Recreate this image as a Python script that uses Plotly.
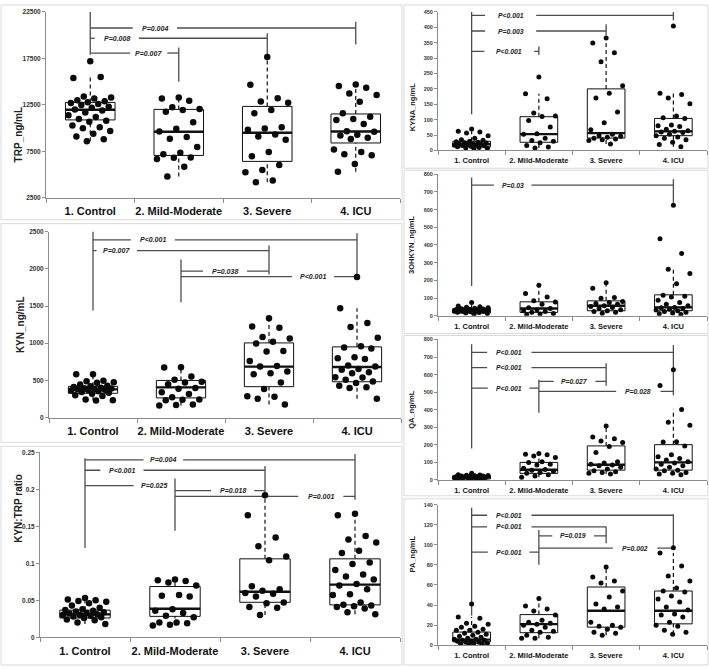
import plotly.graph_objects as go

W, H = 709, 669
FONT = "Liberation Sans, Arial, sans-serif"

categories = ["1. Control", "2. Mild-Moderate", "3. Severe", "4. ICU"]

# ---------------- TRP (ng/mL) ----------------
trp_control = [17190, 15400, 15500, 13400, 13300, 13200, 13000, 12900, 12800, 12700, 12600, 12500,
               12300, 12200, 12000, 11900, 11700, 11400, 11200, 11000, 10800, 10700, 10300, 10100,
               10000, 9700, 9400, 9100, 8800, 8600]
trp_mild = [13300, 13200, 12950, 12240, 12050, 11950, 11780, 10650, 9930, 9650, 9050, 8870, 7990,
            7350, 7200, 6850, 6820, 6680, 5860, 4800]
trp_severe = [17650, 14680, 13230, 12870, 12730, 11950, 11600, 10110, 9970, 9830, 9330, 9120, 8760,
              7450, 6990, 6040, 5500, 5260, 4380, 4200]
trp_icu = [14710, 14540, 14360, 13720, 13580, 12830, 11600, 11240, 10990, 10890, 10460, 9680, 9610,
           9290, 9220, 8970, 8830, 7700, 7450, 7200, 7100, 6140, 5330]
trp_q1 = [10890, 7070, 6430, 8410]
trp_median = [11990, 9610, 9510, 9650]
trp_q3 = [12770, 12020, 12340, 11530]
trp_low = [8600, 4800, 4200, 5330]
trp_high = [15500, 13300, 17650, 14710]
trp_brackets = [(0, 3, 20770, "P=0.004", 0.73, 0.25), (0, 2, 19670, "P=0.008", 0.30, 0.25),
                (0, 1, 18080, "P=0.007", 0.66, 0.21)]
trp_verticals = [(0, 22500, 17900), (3, 21440, 18990), (2, 20200, 17900), (1, 18680, 15000)]

# ---------------- KYN (ng/mL) ----------------
kyn_control = [584, 582, 495, 490, 475, 470, 445, 430, 420, 410, 400, 395, 390, 385, 380, 375, 370,
               365, 355, 345, 335, 320, 300, 290, 245, 235, 230]
kyn_mild = [677, 673, 553, 509, 482, 473, 447, 398, 389, 341, 319, 274, 243, 239, 235, 177, 168, 164]
kyn_severe = [1336, 1226, 1208, 1084, 1062, 1018, 996, 894, 889, 761, 695, 686, 620, 597, 584, 473,
              385, 288, 279, 252, 177]
kyn_icu = [1889, 1469, 1270, 1217, 1075, 960, 943, 929, 810, 797, 788, 699, 686, 655, 642, 611, 597,
           544, 540, 509, 487, 465, 429, 407, 398, 252]
kyn_q1 = [327, 265, 416, 482]
kyn_median = [380, 407, 686, 681]
kyn_q3 = [420, 500, 1004, 951]
kyn_low = [230, 164, 177, 252]
kyn_high = [584, 677, 1336, 1469]
kyn_brackets = [(0, 3, 2390, "P<0.001", 0.68, 0.25), (0, 2, 2243, "P=0.007", 0.27, 0.23),
                (1, 2, 1969, "P=0.038", 1.5, 0.25), (1, 3, 1894, "P<0.001", 2.5, 0.24)]
kyn_verticals = [(0, 2500, 1438), (3, 2478, 1900), (2, 2314, 1925), (1, 2124, 1549)]

# ---------------- KYN:TRP ratio ----------------
ratio_control = [0.053, 0.051, 0.050, 0.049, 0.048, 0.046, 0.043, 0.040, 0.038, 0.037, 0.036, 0.035,
                 0.034, 0.033, 0.032, 0.031, 0.030, 0.030, 0.029, 0.028, 0.027, 0.026, 0.024, 0.023,
                 0.020, 0.018]
ratio_mild = [0.078, 0.077, 0.076, 0.074, 0.070, 0.057, 0.056, 0.055, 0.038, 0.036, 0.033, 0.029,
              0.027, 0.020, 0.020, 0.019, 0.017, 0.016]
ratio_severe = [0.192, 0.165, 0.135, 0.123, 0.109, 0.104, 0.069, 0.065, 0.063, 0.060, 0.059, 0.055,
                0.047, 0.046, 0.041, 0.040, 0.030]
ratio_icu = [0.167, 0.165, 0.137, 0.132, 0.128, 0.117, 0.114, 0.101, 0.099, 0.091, 0.085, 0.082,
             0.078, 0.072, 0.070, 0.065, 0.058, 0.057, 0.047, 0.044, 0.043, 0.042, 0.041, 0.039,
             0.034, 0.031]
ratio_q1 = [0.0261, 0.0283, 0.0473, 0.0438]
ratio_median = [0.031, 0.0385, 0.0615, 0.0712]
ratio_q3 = [0.0367, 0.0686, 0.106, 0.106]
ratio_low = [0.018, 0.016, 0.030, 0.031]
ratio_high = [0.053, 0.078, 0.192, 0.167]
ratio_brackets = [(0, 3, 0.2398, "P=0.004", 0.87, 0.22), (0, 2, 0.2257, "P<0.001", 0.41, 0.24),
                  (0, 1, 0.2049, "P=0.025", 0.77, 0.23), (1, 2, 0.1982, "P=0.018", 1.64, 0.24),
                  (1, 3, 0.1903, "P=0.001", 2.62, 0.25)]
ratio_verticals = [(0, 0.242, 0.1208), (3, 0.2478, 0.1858), (2, 0.2314, 0.1925), (1, 0.2146, 0.1438)]

# ---------------- KYNA (ng/mL) ----------------
kyna_control = [70, 62, 60, 57, 48, 40, 35, 33, 30, 28, 27, 25, 24, 22, 21, 20, 19, 18, 17, 16, 15,
                14, 12, 10, 8, 7, 5]
kyna_mild = [239, 184, 168, 122, 112, 110, 97, 76, 54, 53, 40, 32, 30, 25, 16, 11, 8]
kyna_severe = [365, 349, 317, 288, 210, 186, 170, 125, 90, 67, 53, 48, 46, 43, 40, 37, 35, 32, 21]
kyna_icu = [404, 186, 182, 170, 152, 112, 106, 104, 83, 80, 78, 69, 64, 62, 60, 58, 53, 48, 44, 40,
            35, 27, 19, 12]
kyna_q1 = [11.7, 26.6, 40.4, 48]
kyna_median = [20, 53, 56.4, 62]
kyna_q3 = [29.8, 109.6, 200, 104]
kyna_low = [5, 8, 21, 12]
kyna_high = [62, 184, 365, 186]
kyna_brackets = [(0, 3, 439, "P<0.001", 0.58, 0.38), (0, 2, 388, "P=0.003", 0.58, 0.38),
                 (0, 1, 322, "P<0.001", 0.56, 0.37)]
kyna_verticals = [(0, 450, 118), (3, 450, 423), (2, 410, 373), (1, 338, 310)]

# ---------------- 3OHKYN (ng/mL) ----------------
ohkyn_control = [75, 55, 50, 48, 45, 42, 40, 38, 36, 35, 34, 33, 32, 31, 30, 29, 28, 27, 26, 25, 24,
                 22, 20, 18, 15, 12, 8]
ohkyn_mild = [172, 125, 106, 84, 78, 65, 45, 41, 34, 28, 24, 19, 13, 9, 6]
ohkyn_severe = [187, 155, 103, 99, 80, 75, 69, 65, 56, 52, 47, 41, 34, 28, 24, 19, 14]
ohkyn_icu = [624, 435, 351, 262, 239, 181, 116, 110, 106, 88, 75, 65, 56, 47, 45, 41, 37, 32, 28, 24,
             19, 15, 11, 7]
ohkyn_q1 = [15, 18.7, 28, 28]
ohkyn_median = [28, 41, 56, 47]
ohkyn_q3 = [41, 78.5, 84, 118]
ohkyn_low = [8, 6, 14, 7]
ohkyn_high = [75, 172, 187, 262]
ohkyn_brackets = [(0, 3, 738, "P=0.03", 0.61, 0.28)]
ohkyn_verticals = [(0, 781, 168), (3, 772, 639)]

# ---------------- QA (ng/mL) ----------------
qa_control = [38, 30, 28, 27, 25, 24, 23, 22, 21, 20, 19, 18, 17, 16, 15, 14, 13, 12, 11, 10, 9, 8,
              6, 5]
qa_mild = [151, 147, 143, 137, 128, 103, 100, 90, 85, 66, 60, 56, 49, 43, 38, 30, 23, 15]
qa_severe = [307, 245, 235, 222, 213, 190, 156, 103, 96, 90, 85, 81, 72, 62, 53, 47, 43, 38, 34]
qa_icu = [627, 538, 401, 329, 311, 218, 216, 194, 143, 132, 122, 113, 103, 96, 90, 81, 72, 62, 56,
          53, 43, 38, 34, 30]
qa_q1 = [5.6, 37.6, 56, 56]
qa_median = [15, 58, 87, 100]
qa_q3 = [24.5, 100, 194, 201]
qa_low = [5, 15, 34, 30]
qa_high = [38, 147, 307, 401]
qa_brackets = [(0, 3, 726, "P<0.001", 0.56, 0.33), (0, 2, 640, "P<0.001", 0.56, 0.33),
               (0, 1, 523, "P<0.001", 0.55, 0.31), (1, 2, 561, "P=0.027", 1.53, 0.31),
               (1, 3, 504, "P=0.028", 2.48, 0.33)]
qa_verticals = [(0, 773, 179), (3, 768, 482), (2, 664, 536), (1, 570, 382)]

# ---------------- PA (ng/mL) ----------------
pa_control = [41, 28, 27, 22, 21, 19, 18, 16, 15, 15, 13, 12, 11, 10, 9, 8, 7, 6, 6, 5, 5, 4, 4, 3,
              3, 2, 2, 1, 1, 0.5]
pa_mild = [46.5, 39, 36, 34, 30, 25, 23, 22, 21, 20, 18, 15, 14, 13, 10, 8, 7, 7]
pa_severe = [78, 68, 64, 62, 54, 48, 41, 38, 36, 23, 20, 19, 18, 16, 13, 12, 10]
pa_icu = [97, 92, 79, 69, 64, 57, 54, 53, 49, 46, 43, 38, 35, 31, 30, 28, 23, 20, 19, 15, 13, 11]
pa_q1 = [3.3, 12.5, 18, 21.3]
pa_median = [5.6, 21, 34.4, 34.4]
pa_q3 = [13.1, 30.5, 58, 54]
pa_low = [0.5, 7, 10, 11]
pa_high = [28, 46.5, 78, 92]
pa_brackets = [(0, 3, 129.5, "P<0.001", 0.56, 0.33), (0, 2, 118, "P<0.001", 0.56, 0.33),
               (1, 2, 108.9, "P=0.019", 1.51, 0.31), (0, 1, 92.8, "P<0.001", 0.55, 0.31),
               (1, 3, 96.7, "P=0.002", 2.43, 0.33)]
pa_verticals = [(0, 137, 29.5), (3, 130.5, 97), (2, 118, 101.6), (1, 114.8, 80.3)]

panels = [
    dict(title="TRP_ng/mL", groups=[trp_control, trp_mild, trp_severe, trp_icu], q1=trp_q1,
         med=trp_median, q3=trp_q3, lo=trp_low, hi=trp_high, yr=[2500, 22500], t0=2500, dt=5000,
         br=trp_brackets, vt=trp_verticals, fmt="d"),
    dict(title="KYN_ng/mL", groups=[kyn_control, kyn_mild, kyn_severe, kyn_icu], q1=kyn_q1,
         med=kyn_median, q3=kyn_q3, lo=kyn_low, hi=kyn_high, yr=[0, 2500], t0=0, dt=500,
         br=kyn_brackets, vt=kyn_verticals, fmt="d"),
    dict(title="KYN:TRP ratio", groups=[ratio_control, ratio_mild, ratio_severe, ratio_icu],
         q1=ratio_q1, med=ratio_median, q3=ratio_q3, lo=ratio_low, hi=ratio_high, yr=[0, 0.25],
         t0=0, dt=0.05, br=ratio_brackets, vt=ratio_verticals, fmt=""),
    dict(title="KYNA_ng/mL", groups=[kyna_control, kyna_mild, kyna_severe, kyna_icu], q1=kyna_q1,
         med=kyna_median, q3=kyna_q3, lo=kyna_low, hi=kyna_high, yr=[0, 450], t0=0, dt=50,
         br=kyna_brackets, vt=kyna_verticals, fmt="d"),
    dict(title="3OHKYN_ng/mL", groups=[ohkyn_control, ohkyn_mild, ohkyn_severe, ohkyn_icu],
         q1=ohkyn_q1, med=ohkyn_median, q3=ohkyn_q3, lo=ohkyn_low, hi=ohkyn_high, yr=[0, 800],
         t0=0, dt=100, br=ohkyn_brackets, vt=ohkyn_verticals, fmt="d"),
    dict(title="QA_ng/mL", groups=[qa_control, qa_mild, qa_severe, qa_icu], q1=qa_q1,
         med=qa_median, q3=qa_q3, lo=qa_low, hi=qa_high, yr=[0, 800], t0=0, dt=100,
         br=qa_brackets, vt=qa_verticals, fmt="d"),
    dict(title="PA_ng/mL", groups=[pa_control, pa_mild, pa_severe, pa_icu], q1=pa_q1,
         med=pa_median, q3=pa_q3, lo=pa_low, hi=pa_high, yr=[0, 140], t0=0, dt=20,
         br=pa_brackets, vt=pa_verticals, fmt="d"),
]

# plot-area placement in pixels: (left, right, top, bottom), y-title x, frame rect, size class
geom = [
    dict(px=(46, 400, 8, 196), tx=11, frame=(1, 402, 1, 218), big=True),
    dict(px=(49, 401, 230, 418), tx=13, frame=(1, 402, 222, 443), big=True),
    dict(px=(40, 400, 453, 640), tx=11, frame=(1, 402, 447, 668), big=True),
    dict(px=(438, 707, 8, 148), tx=412, frame=(404, 708, 1, 166), big=False),
    dict(px=(438, 707, 172, 315), tx=412, frame=(404, 708, 168, 333), big=False),
    dict(px=(438, 707, 339, 481), tx=412, frame=(404, 708, 335, 497), big=False),
    dict(px=(438, 707, 506, 648), tx=412, frame=(404, 708, 500, 668), big=False),
]


def jitter(n, spread):
    return [spread * ((((k * 0.6180339887) + 0.5) % 1.0) * 2 - 1) for k in range(n)]


fig = go.Figure()
layout = dict(width=W, height=H, margin=dict(l=0, r=0, t=0, b=0), paper_bgcolor="white",
              plot_bgcolor="white", showlegend=False, font=dict(family=FONT, color="#222"))
shapes, annotations = [], []
AX = "#8c8c8c"
BR = "#4d4d4d"

for n, (p, g) in enumerate(zip(panels, geom), start=1):
    xa = "x" if n == 1 else f"x{n}"
    ya = "y" if n == 1 else f"y{n}"
    l, r, t, b = g["px"]
    big = g["big"]
    fl, fr, ft, fb = g["frame"]
    shapes.append(dict(type="rect", xref="paper", yref="paper", x0=fl / W, x1=fr / W,
                       y0=1 - fb / H, y1=1 - ft / H, line=dict(color="#d9d9d9", width=1),
                       fillcolor="rgba(0,0,0,0)", layer="below"))
    xs = [0, 1, 2, 3]
    bw = 0.56
    # significance brackets
    bx, by = [], []
    for (xv, y0, y1) in p["vt"]:
        bx += [xv, xv, None]
        by += [y0, y1, None]
    for (xl, xr, yv, txt, tx, gh) in p["br"]:
        if tx - gh > xl:
            bx += [xl, tx - gh, None]
            by += [yv, yv, None]
        if tx + gh < xr:
            bx += [tx + gh, xr, None]
            by += [yv, yv, None]
        annotations.append(dict(x=tx, y=yv, xref=xa, yref=ya, text=txt, showarrow=False,
                                font=dict(size=7 if big else 6.8, family=FONT, color="#222",
                                          weight="bold", style="italic")))
    fig.add_trace(go.Scatter(x=bx, y=by, mode="lines", line=dict(color=BR, width=1.3),
                             xaxis=xa, yaxis=ya, hoverinfo="skip"))
    # boxes
    fig.add_trace(go.Box(x=xs, q1=p["q1"], median=p["med"], q3=p["q3"], lowerfence=p["q1"],
                         upperfence=p["q3"], width=bw, fillcolor="white", boxpoints=False,
                         line=dict(color="#111", width=1), whiskerwidth=0,
                         xaxis=xa, yaxis=ya))
    # whiskers (dashed)
    wx, wy = [], []
    for i in xs:
        wx += [i, i, None, i, i, None]
        wy += [p["lo"][i], p["q1"][i], None, p["q3"][i], p["hi"][i], None]
    fig.add_trace(go.Scatter(x=wx, y=wy, mode="lines",
                             line=dict(color="#111", width=1.2, dash="4px,3px"),
                             xaxis=xa, yaxis=ya, hoverinfo="skip"))
    # medians (thick)
    mx, my = [], []
    for i in xs:
        mx += [i - bw / 2, i + bw / 2, None]
        my += [p["med"][i], p["med"][i], None]
    fig.add_trace(go.Scatter(x=mx, y=my, mode="lines", line=dict(color="#111", width=2.4),
                             xaxis=xa, yaxis=ya, hoverinfo="skip"))
    # points
    for i, vals in enumerate(p["groups"]):
        jit = jitter(len(vals), 0.25 if big else 0.26)
        fig.add_trace(go.Scatter(x=[i + j for j in jit], y=vals, mode="markers",
                                 marker=dict(color="#0a0a0a", size=6.5 if big else 5),
                                 xaxis=xa, yaxis=ya, name=categories[i]))
    xkey = "xaxis" if n == 1 else f"xaxis{n}"
    ykey = "yaxis" if n == 1 else f"yaxis{n}"
    layout[xkey] = dict(domain=[l / W, r / W], anchor=ya, range=[-0.5, 3.5], tickmode="array",
                        tickvals=xs, ticktext=categories, ticks="", showgrid=False,
                        zeroline=False, showline=True, linecolor=AX, linewidth=1,
                        ticklabelstandoff=3 if big else 3,
                        tickfont=dict(size=11 if big else 7.5, family=FONT, color="#111",
                                      weight="bold"),
                        minor=dict(tickmode="array", tickvals=[-0.5, 0.5, 1.5, 2.5, 3.5],
                                   ticks="outside", ticklen=4, tickcolor=AX, showgrid=False),
                        fixedrange=True)
    layout[ykey] = dict(domain=[1 - b / H, 1 - t / H], anchor=xa, range=p["yr"],
                        tickmode="linear", tick0=p["t0"], dtick=p["dt"], ticks="outside",
                        tickformat=p["fmt"], ticklen=3, tickcolor=AX, showgrid=False,
                        zeroline=False, showline=True, linecolor=AX, linewidth=1,
                        tickfont=dict(size=6.5 if big else 5.5, family=FONT, color="#333",
                                      weight="bold"),
                        fixedrange=True)
    annotations.append(dict(x=g["tx"] / W, y=1 - ((t + b) / 2) / H, xref="paper", yref="paper",
                            text=p["title"], textangle=-90, showarrow=False,
                            font=dict(size=10 if big else 7.5, family=FONT, color="#222",
                                      weight="bold")))

layout["shapes"] = shapes
layout["annotations"] = annotations
fig.update_layout(**layout)
fig.write_html("out.html", config={"displayModeBar": False},
               post_script="document.body.style.margin='0';document.body.style.padding='0';")
